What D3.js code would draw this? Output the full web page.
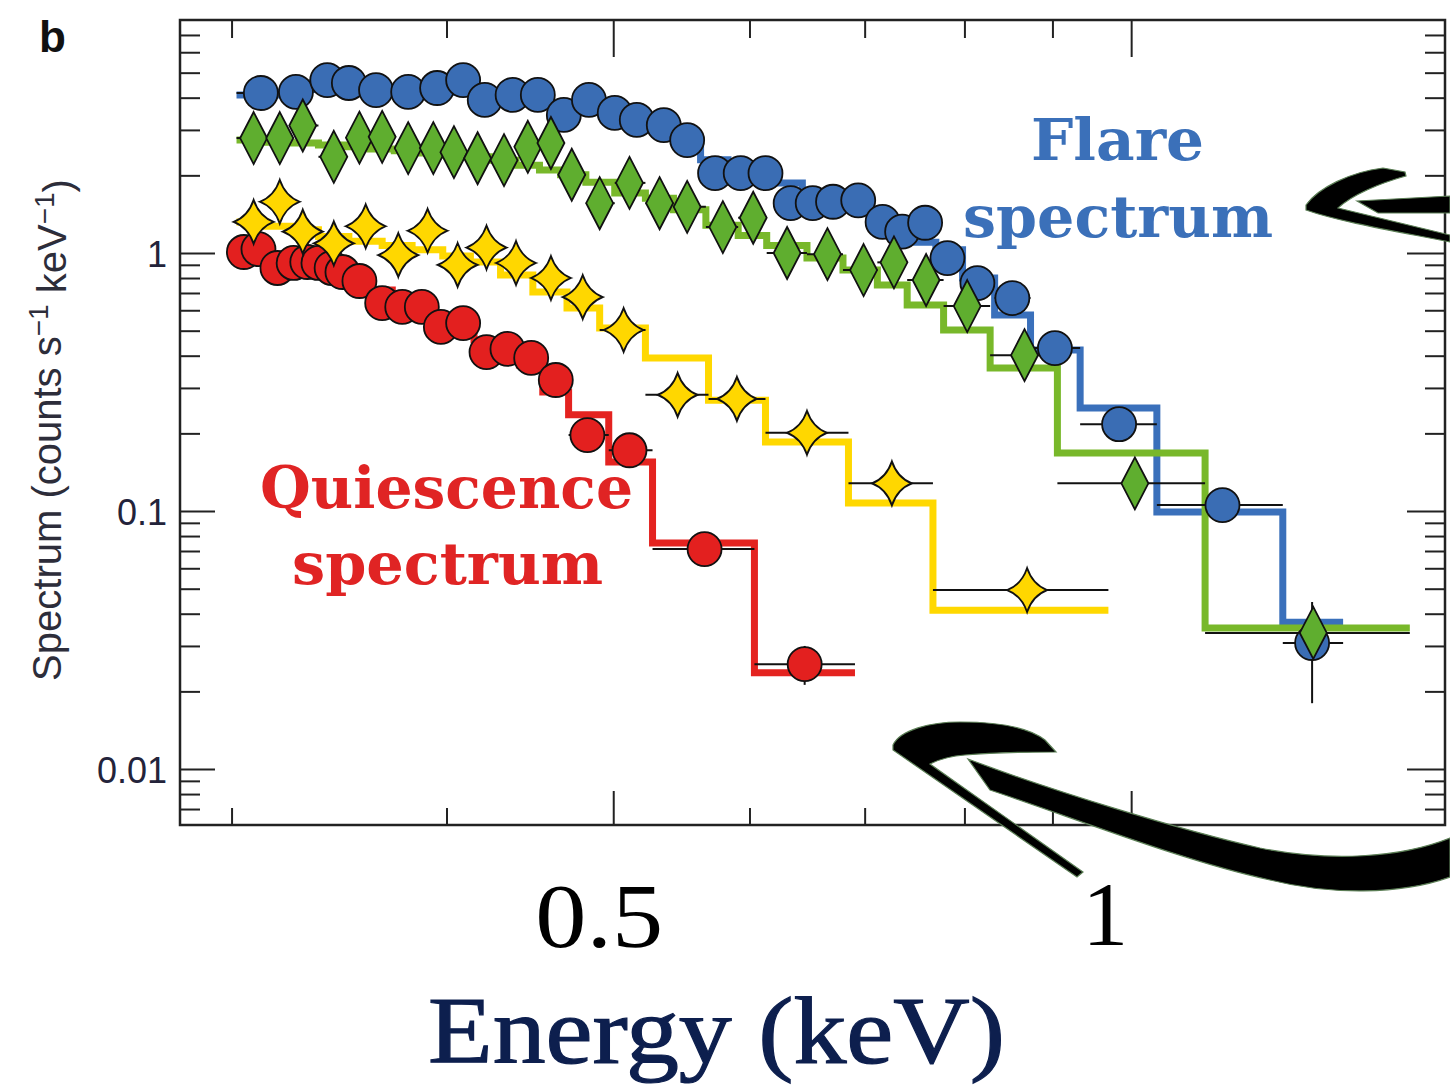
<!DOCTYPE html>
<html>
<head>
<meta charset="utf-8">
<script src="https://cdn.jsdelivr.net/npm/d3@7"></script>
<style>
  body { margin: 0; background: #fff; }
  svg { display: block; }
</style>
</head>
<body>
<div id="container"></div>
<script>
// Flare spectrum (blue circles): bin edges, bin centres, counts, folded model (keV, counts s-1 keV-1)
const flareEdges = [0.302, 0.319, 0.333, 0.346, 0.357, 0.371, 0.387, 0.402, 0.415, 0.429, 0.444, 0.460, 0.475, 0.492, 0.509, 0.525, 0.543, 0.562, 0.583, 0.602, 0.624, 0.644, 0.662, 0.682, 0.705, 0.726, 0.747, 0.770, 0.798, 0.833, 0.874, 0.934, 1.035, 1.225, 1.328];
const flareE = [0.312, 0.327, 0.341, 0.351, 0.364, 0.380, 0.395, 0.409, 0.421, 0.437, 0.452, 0.468, 0.484, 0.501, 0.516, 0.535, 0.552, 0.573, 0.593, 0.613, 0.634, 0.653, 0.671, 0.694, 0.717, 0.736, 0.759, 0.782, 0.814, 0.853, 0.903, 0.984, 1.130, 1.274];
const flareData = [4.17, 4.21, 4.68, 4.56, 4.28, 4.21, 4.36, 4.68, 3.92, 4.10, 4.10, 3.43, 3.92, 3.49, 3.28, 3.13, 2.74, 2.04, 2.04, 2.04, 1.56, 1.56, 1.58, 1.60, 1.32, 1.21, 1.31, 0.956, 0.765, 0.669, 0.428, 0.217, 0.1055, 0.0308];
const flareModel = [4.10, 4.20, 4.30, 4.30, 4.30, 4.30, 4.20, 4.20, 4.10, 4.00, 3.90, 3.70, 3.60, 3.40, 3.20, 3.00, 2.70, 2.30, 2.10, 2.00, 1.87, 1.70, 1.60, 1.50, 1.35, 1.20, 1.10, 1.03, 0.80, 0.575, 0.421, 0.251, 0.0991, 0.0371];

// Second flare spectrum (green diamonds)
const greenEdges = [0.302, 0.314, 0.325, 0.337, 0.350, 0.361, 0.373, 0.386, 0.398, 0.410, 0.424, 0.439, 0.453, 0.466, 0.482, 0.501, 0.522, 0.542, 0.566, 0.591, 0.614, 0.648, 0.680, 0.712, 0.741, 0.778, 0.828, 0.906, 1.104, 1.452];
const greenE = [0.309, 0.320, 0.330, 0.344, 0.356, 0.367, 0.380, 0.393, 0.404, 0.417, 0.432, 0.446, 0.460, 0.473, 0.491, 0.511, 0.532, 0.552, 0.579, 0.603, 0.631, 0.666, 0.699, 0.728, 0.760, 0.803, 0.867, 1.005, 1.276];
const greenData = [2.79, 2.79, 3.12, 2.36, 2.80, 2.82, 2.55, 2.55, 2.46, 2.33, 2.29, 2.58, 2.67, 2.01, 1.56, 1.87, 1.56, 1.51, 1.26, 1.37, 1.00, 0.99, 0.859, 0.92, 0.786, 0.623, 0.402, 0.128, 0.0337];
const greenModel = [2.74, 2.69, 2.67, 2.62, 2.58, 2.53, 2.49, 2.44, 2.40, 2.36, 2.29, 2.19, 2.10, 2.01, 1.88, 1.71, 1.63, 1.47, 1.28, 1.17, 1.07, 0.956, 0.859, 0.752, 0.629, 0.503, 0.358, 0.168, 0.0352];

// Yellow stars
const yellowEdges = [0.302, 0.314, 0.325, 0.337, 0.351, 0.367, 0.382, 0.398, 0.413, 0.430, 0.449, 0.470, 0.491, 0.522, 0.568, 0.613, 0.685, 0.767, 0.970];
const yellowE = [0.309, 0.320, 0.330, 0.344, 0.359, 0.375, 0.390, 0.406, 0.422, 0.439, 0.460, 0.480, 0.507, 0.545, 0.590, 0.648, 0.726, 0.870];
const yellowData = [1.32, 1.58, 1.21, 1.09, 1.27, 0.982, 1.22, 0.899, 1.05, 0.915, 0.800, 0.675, 0.503, 0.282, 0.272, 0.201, 0.128, 0.0494];
const yellowModel = [1.32, 1.27, 1.23, 1.16, 1.11, 1.07, 1.03, 0.974, 0.923, 0.822, 0.706, 0.612, 0.512, 0.392, 0.269, 0.185, 0.1074, 0.0413];

// Quiescence spectrum (red circles)
const redEdges = [0.302, 0.308, 0.315, 0.322, 0.329, 0.334, 0.340, 0.345, 0.352, 0.361, 0.372, 0.382, 0.392, 0.403, 0.415, 0.428, 0.441, 0.455, 0.471, 0.497, 0.527, 0.604, 0.691];
const redE = [0.305, 0.311, 0.319, 0.326, 0.332, 0.337, 0.343, 0.348, 0.356, 0.367, 0.377, 0.387, 0.397, 0.409, 0.422, 0.434, 0.448, 0.463, 0.483, 0.511, 0.565, 0.646];
const redData = [1.009, 1.036, 0.875, 0.915, 0.923, 0.915, 0.875, 0.844, 0.779, 0.640, 0.618, 0.618, 0.517, 0.535, 0.413, 0.425, 0.392, 0.322, 0.197, 0.172, 0.0712, 0.0255];
const redModel = [1.03, 1.009, 0.974, 0.948, 0.923, 0.899, 0.875, 0.844, 0.800, 0.719, 0.657, 0.612, 0.560, 0.512, 0.460, 0.413, 0.368, 0.289, 0.236, 0.155, 0.0752, 0.0236];

// Vertical error bars that stick out of the markers
const yErrBars = [
  { e: 1.274, lo: 0.0180, hi: 0.0444 },
  { e: 0.646, lo: 0.0212, hi: 0.0300 },
];

// Tick values
const xMajor = [0.5, 1];
const xMinor = [0.3, 0.4, 0.6, 0.7, 0.8, 0.9];
const yMajor = [0.01, 0.1, 1];
const yMinor = [0.007, 0.008, 0.009, 0.02, 0.03, 0.04, 0.05, 0.06, 0.07, 0.08, 0.09,
  0.2, 0.3, 0.4, 0.5, 0.6, 0.7, 0.8, 0.9, 2, 3, 4, 5, 6, 7];
const xLabels = ["0.5", "1"];

// Dimensions
const width = 1450, height = 1086;
const plot = { left: 180, right: 1445, top: 20, bottom: 825 };

const x = d3.scaleLog().domain([0.28, 1.522]).range([plot.left, plot.right]);
const y = d3.scaleLog().domain([0.00607, 8.0]).range([plot.bottom, plot.top]);

const svg = d3.select("#container")
  .append("svg")
  .attr("width", width)
  .attr("height", height);

// series, drawn bottom to top
const series = [
  { edges: redEdges, e: redE, data: redData, model: redModel, line: "#e42320", fill: "#e3201f", shape: "circle" },
  { edges: yellowEdges, e: yellowE, data: yellowData, model: yellowModel, line: "#ffd800", fill: "#ffd700", shape: "star" },
  { edges: flareEdges, e: flareE, data: flareData, model: flareModel, line: "#3a70bb", fill: "#3a6db4", shape: "circle" },
  { edges: greenEdges, e: greenE, data: greenData, model: greenModel, line: "#78b82a", fill: "#5fae2f", shape: "diamond" },
];

// Axes (ticks point inward)
function styleTicks(g) {
  g.select(".domain").remove();
  g.selectAll(".tick line").attr("stroke", "#222").attr("stroke-width", 2);
}

svg.append("g").attr("transform", `translate(0,${plot.bottom})`)
  .call(d3.axisBottom(x).tickValues(xMinor).tickSize(-17).tickFormat(""))
  .call(styleTicks);
svg.append("g").attr("transform", `translate(0,${plot.bottom})`)
  .call(d3.axisBottom(x).tickValues(xMajor).tickSize(-34).tickFormat(""))
  .call(styleTicks);
svg.append("g").attr("transform", `translate(0,${plot.top})`)
  .call(d3.axisTop(x).tickValues(xMinor).tickSize(-18).tickFormat(""))
  .call(styleTicks);
svg.append("g").attr("transform", `translate(0,${plot.top})`)
  .call(d3.axisTop(x).tickValues(xMajor).tickSize(-37).tickFormat(""))
  .call(styleTicks);

svg.append("g").attr("transform", `translate(${plot.left},0)`)
  .call(d3.axisLeft(y).tickValues(yMinor).tickSize(-20).tickFormat(""))
  .call(styleTicks);
svg.append("g").attr("transform", `translate(${plot.left},0)`)
  .call(d3.axisLeft(y).tickValues(yMajor).tickSize(-35).tickPadding(13).tickFormat(d3.format("~g")))
  .call(styleTicks)
  .call(g => g.selectAll(".tick text")
    .attr("dy", "0.38em")
    .attr("fill", "#23233a")
    .style("font-family", "'Liberation Sans', Arial, sans-serif")
    .style("font-size", "36px"));
svg.append("g").attr("transform", `translate(${plot.right},0)`)
  .call(d3.axisRight(y).tickValues(yMinor).tickSize(-20).tickFormat(""))
  .call(styleTicks);
svg.append("g").attr("transform", `translate(${plot.right},0)`)
  .call(d3.axisRight(y).tickValues(yMajor).tickSize(-38).tickFormat(""))
  .call(styleTicks);

// Frame
svg.append("rect")
  .attr("x", plot.left).attr("y", plot.top)
  .attr("width", plot.right - plot.left).attr("height", plot.bottom - plot.top)
  .attr("fill", "none").attr("stroke", "#222").attr("stroke-width", 2.5);

// Model step lines
const stepLine = d3.line()
  .x(d => x(d[0]))
  .y(d => y(d[1]))
  .curve(d3.curveStepAfter);

series.forEach(s => {
  const pts = s.model.map((m, i) => [s.edges[i], m]);
  pts.push([s.edges[s.edges.length - 1], s.model[s.model.length - 1]]);
  svg.append("path")
    .attr("d", stepLine(pts))
    .attr("fill", "none")
    .attr("stroke", s.line)
    .attr("stroke-width", 7);
});

// Error bars (bin widths)
const errG = svg.append("g").attr("stroke", "#111").attr("stroke-width", 2);
series.forEach(s => {
  errG.selectAll(null)
    .data(s.data)
    .join("line")
    .attr("x1", (d, i) => x(s.edges[i]))
    .attr("x2", (d, i) => x(s.edges[i + 1]))
    .attr("y1", d => y(d))
    .attr("y2", d => y(d));
});
errG.selectAll(null)
  .data(yErrBars)
  .join("line")
  .attr("x1", d => x(d.e)).attr("x2", d => x(d.e))
  .attr("y1", d => y(d.lo)).attr("y2", d => y(d.hi));

// Marker shapes
const shapes = {
  diamond: "M0,-26L13.5,0L0,26L-13.5,0Z",
  star: "M0,-22Q5.5,-5.5 20,0Q5.5,5.5 0,22Q-5.5,5.5 -20,0Q-5.5,-5.5 0,-22Z",
};

series.forEach(s => {
  const g = svg.append("g");
  const pts = s.data.map((d, i) => [s.e[i], d]);
  if (s.shape === "circle") {
    g.selectAll("circle")
      .data(pts)
      .join("circle")
      .attr("cx", d => x(d[0]))
      .attr("cy", d => y(d[1]))
      .attr("r", 17)
      .attr("fill", s.fill)
      .attr("stroke", "#111")
      .attr("stroke-width", 1.8);
  } else {
    g.selectAll("path")
      .data(pts)
      .join("path")
      .attr("transform", d => `translate(${x(d[0])},${y(d[1])})`)
      .attr("d", shapes[s.shape])
      .attr("fill", s.fill)
      .attr("stroke", "#111")
      .attr("stroke-width", 1.8)
      .attr("stroke-linejoin", "miter");
  }
});

// Panel letter
svg.append("text")
  .attr("x", 39).attr("y", 52)
  .style("font-family", "'Liberation Sans', Arial, sans-serif")
  .style("font-weight", "bold")
  .style("font-size", "44px")
  .attr("fill", "#111")
  .text("b");

// Y axis title
const yTitle = svg.append("text")
  .attr("transform", "translate(61,430) rotate(-90)")
  .attr("text-anchor", "middle")
  .style("font-family", "'Liberation Sans', Arial, sans-serif")
  .style("font-size", "40px")
  .attr("fill", "#2d2d3a");
yTitle.append("tspan").text("Spectrum (counts s");
yTitle.append("tspan").attr("dy", "-0.45em").style("font-size", "28px").text("\u22121");
yTitle.append("tspan").attr("dy", "0.45em").text(" keV");
yTitle.append("tspan").attr("dy", "-0.45em").style("font-size", "28px").text("\u22121");
yTitle.append("tspan").attr("dy", "0.45em").text(")");

// Bottom tick labels (large serif, as in the reference)
svg.append("text")
  .attr("x", x(0.5) - 78).attr("y", 947)
  .attr("textLength", 128).attr("lengthAdjust", "spacingAndGlyphs")
  .style("font-family", "'Liberation Serif', 'DejaVu Serif', serif")
  .style("font-size", "92px")
  .attr("fill", "#000")
  .text(xLabels[0]);
svg.append("text")
  .attr("x", x(1) - 26).attr("y", 945)
  .attr("text-anchor", "middle")
  .style("font-family", "'Liberation Serif', 'DejaVu Serif', serif")
  .style("font-size", "92px")
  .attr("fill", "#000")
  .text(xLabels[1]);

// X axis title
svg.append("text")
  .attr("x", 428).attr("y", 1063)
  .attr("textLength", 577).attr("lengthAdjust", "spacingAndGlyphs")
  .style("font-family", "'Liberation Serif', 'DejaVu Serif', serif")
  .style("font-size", "96px")
  .attr("fill", "#0d1f4e")
  .attr("stroke", "#0d1f4e")
  .attr("stroke-width", 1.2)
  .text("Energy (keV)");

// Series labels
function label(txt, x0, yBase, len, color) {
  svg.append("text")
    .attr("x", x0).attr("y", yBase)
    .attr("textLength", len).attr("lengthAdjust", "spacingAndGlyphs")
    .style("font-family", "'DejaVu Serif', 'Liberation Serif', serif")
    .style("font-weight", "bold")
    .style("font-size", "58px")
    .attr("fill", color)
    .text(txt);
}
label("Flare", 1031, 160, 173, "#3b70b9");
label("spectrum", 963, 237, 310, "#3b70b9");
label("Quiescence", 260, 508, 373, "#e02424");
label("spectrum", 292, 584, 311, "#e02424");

// Hand-drawn arrows
const arrowG = svg.append("g")
  .attr("fill", "#000")
  .attr("stroke", "#5c7f56")
  .attr("stroke-width", 1.2);
arrowG.append("path")
  .attr("d", "M1306,205C1318,188 1350,172 1383,168L1405,172L1406,176C1380,183 1352,195 1338,208L1450,235L1450,242C1400,232 1340,222 1306,210Z");
arrowG.append("path")
  .attr("d", "M1357,201L1450,196L1450,213L1378,213Z");
arrowG.append("path")
  .attr("d", "M893,745C900,730 930,722 960,722C1000,722 1030,728 1045,740L1056,752C1035,752 1000,752 965,755C950,756 938,760 930,764L1083,872L1077,877L893,750Z");
arrowG.append("path")
  .attr("d", "M968,759C1050,790 1180,830 1260,848C1330,862 1400,858 1450,838L1450,877C1400,895 1330,895 1270,880C1180,860 1080,820 990,790Z");
</script>
</body>
</html>
